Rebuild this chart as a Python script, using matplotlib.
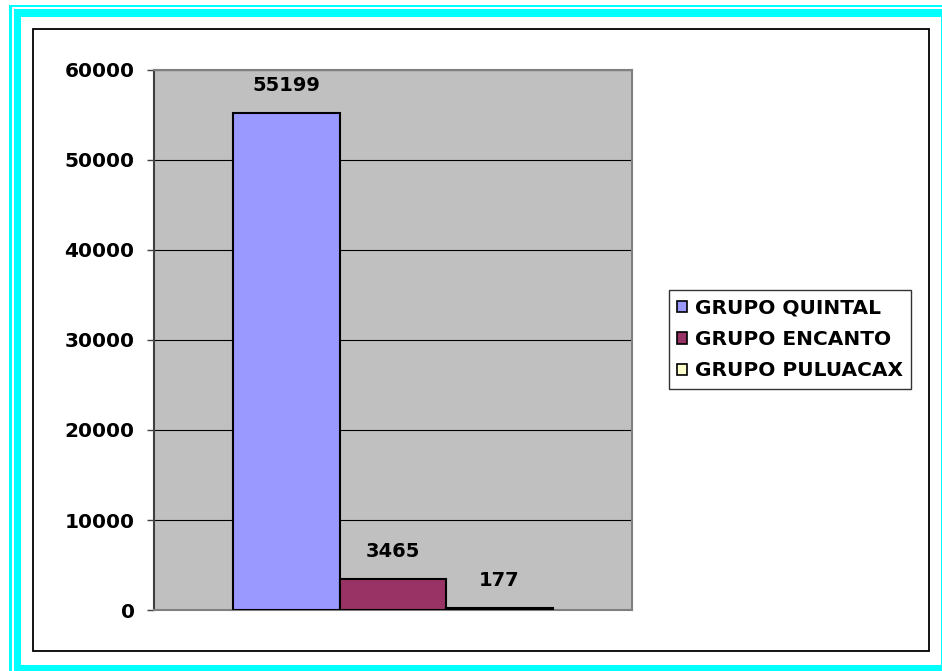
import numpy as np
import matplotlib
matplotlib.use('Agg')
import matplotlib.pyplot as plt
from matplotlib.patches import Rectangle

# datos del grafico
grupos = ['GRUPO QUINTAL', 'GRUPO ENCANTO', 'GRUPO PULUACAX']
valores = [55199, 3465, 177]
colores = ['#9999FF', '#993366', '#FFFFCC']
yticks = [0, 10000, 20000, 30000, 40000, 50000, 60000]

W, H = 942, 671
fig = plt.figure(figsize=(W / 100, H / 100), dpi=100)
fig.patch.set_facecolor('white')

def box(x0, y0, x1, y1, **kw):
    # rectangle in pixel coords (origin top-left)
    r = Rectangle((x0 / W, 1 - y1 / H), (x1 - x0) / W, (y1 - y0) / H,
                  transform=fig.transFigure, clip_on=False, **kw)
    fig.add_artist(r)

# marco cyan doble
box(9, 5, 990, 720, facecolor='#00FFFF', edgecolor='none', zorder=-10)
box(12, 7, 985, 715, facecolor='white', edgecolor='none', zorder=-9)
box(14, 9, 980, 710, facecolor='#00FFFF', edgecolor='none', zorder=-8)
box(21, 17, 941, 665, facecolor='white', edgecolor='none', zorder=-7)
box(33, 29, 929, 651, facecolor='white', edgecolor='black', linewidth=1.3, zorder=-6)

ax = fig.add_axes([154 / W, 1 - 610 / H, (632 - 154) / W, (610 - 70) / H])
ax.set_facecolor('#C0C0C0')

x = np.array([-1, 0, 1])
bars = ax.bar(x, valores, width=1.0, color=colores, edgecolor='black',
              linewidth=1.5, label=grupos, zorder=3)
ax.set_xlim(-2.245, 2.245)
ax.set_ylim(0, 60000)
ax.set_yticks(yticks)
ax.set_yticklabels([str(v) for v in yticks], fontsize=14.5,
                   fontweight='bold', family='DejaVu Sans')
ax.set_xticks([])
ax.yaxis.grid(True, color='black', linewidth=0.8, zorder=1)
ax.set_axisbelow(True)
ax.tick_params(axis='y', length=5, width=1, color='#404040', pad=9)

for s in ['top', 'right', 'bottom']:
    ax.spines[s].set_color('#808080')
    ax.spines[s].set_linewidth(1.5)
ax.spines['left'].set_color('#404040')
ax.spines['left'].set_linewidth(1.5)

for b, v in zip(bars, valores):
    ax.annotate(str(v), (b.get_x() + b.get_width() / 2, v),
                xytext=(0, 13), textcoords='offset points',
                ha='center', va='bottom', fontsize=14,
                fontweight='bold', family='DejaVu Sans')

leg = fig.legend(handles=list(bars), labels=grupos, loc='center',
                 bbox_to_anchor=(790 / W, 1 - 339.5 / H),
                 frameon=True, fancybox=False, shadow=False,
                 prop={'family': 'DejaVu Sans', 'weight': 'bold', 'size': 14.5},
                 handlelength=0.5, handleheight=0.5, handletextpad=0.4,
                 labelspacing=0.62, borderpad=0.4, borderaxespad=0)
leg.get_frame().set_edgecolor('black')
leg.get_frame().set_linewidth(1.0)
for h in leg.legend_handles:
    h.set_linewidth(1.2)

fig.savefig('out.png', dpi=100)
